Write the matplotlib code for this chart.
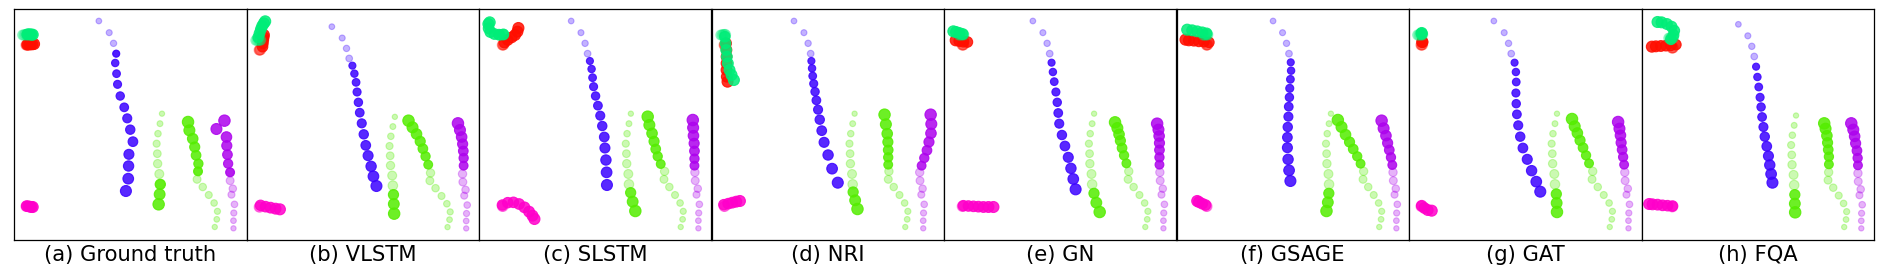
import numpy as np
import matplotlib.pyplot as plt

titles = ["(a) Ground truth", "(b) VLSTM", "(c) SLSTM", "(d) NRI",
          "(e) GN", "(f) GSAGE", "(g) GAT", "(h) FQA"]

# colours of the agents
c_blue = "#3b02ff"
c_green = "#54ed00"
c_purple = "#ad02ed"
c_mint = "#00ed78"
c_red = "#ff0e00"
c_magenta = "#ff00ca"

# observed history, in the frame of panel (a)
blue_hist = [(254, 36), (285, 71), (298, 103), (306, 134)]
greenl_hist = [(443, 314), (437, 344), (431, 374), (427, 404), (429, 434), (430, 464), (435, 495), (437, 526)]
greenr_hist = [(601, 654), (607, 631), (609, 607), (599, 582), (583, 558), (565, 534), (548, 511), (550, 487)]
purple_hist = [(657, 658), (657, 635), (658, 612), (660, 586), (651, 557), (655, 539), (647, 515), (646, 490)]
mint_hist = [(26, 78), (30, 78), (34, 77), (38, 77), (40, 77)]
red_hist = [(36, 108), (38, 108), (40, 107)]
magenta_hist = [(36, 592), (38, 592)]

# how each panel's autoscaled view maps the history (x scale, x shift, y scale, y shift)
view_sx = [1.0, 0.998, 0.945, 0.960, 0.970, 0.916, 1.0, 0.913]
view_ox = [0, 2, 35.9, 3.1, 19.6, 56.4, 0, 58.1]
view_sy = [1.0, 0.973, 1.0, 1.0, 1.0, 1.0, 1.0, 0.984]
view_oy = [0, 18, 0, 0, 0, 0, 0, 10.6]

# predicted futures, one list per panel
blue_pred = [
    [(306, 134), (303, 162), (307, 194), (310, 226), (318, 261), (330, 295), (339, 328), (348, 362), (356, 398), (344, 436), (343, 471), (342, 509), (335, 546)],
    [(317, 170), (323, 194), (328, 220), (331, 249), (335, 280), (339, 311), (345, 343), (351, 376), (357, 409), (364, 440), (373, 472), (380, 502), (389, 531)],
    [(332, 156), (337, 180), (340, 206), (343, 233), (349, 261), (356, 290), (363, 320), (369, 351), (375, 384), (377, 417), (380, 453), (382, 490), (383, 528)],
    [(299, 156), (301, 178), (303, 201), (306, 224), (310, 248), (314, 274), (319, 302), (324, 332), (330, 365), (337, 400), (349, 438), (361, 479), (378, 521)],
    [(322, 161), (326, 189), (330, 218), (335, 249), (339, 280), (342, 312), (345, 344), (353, 378), (362, 411), (372, 445), (380, 478), (387, 510), (394, 541)],
    [(342, 160), (343, 185), (341, 211), (339, 238), (338, 265), (336, 293), (335, 323), (333, 354), (332, 385), (332, 416), (334, 451), (337, 484), (341, 516)],
    [(316, 161), (320, 189), (321, 219), (320, 252), (321, 284), (323, 316), (327, 349), (333, 383), (341, 417), (354, 451), (367, 485), (381, 518), (393, 548)],
    [(343, 173), (347, 204), (351, 234), (355, 265), (358, 294), (361, 324), (365, 354), (369, 383), (375, 412), (380, 441), (384, 468), (388, 495), (392, 521)],
]
greenl_pred = [
    [(438, 526), (436, 556), (433, 586)],
    [(440, 557), (441, 585), (442, 614)],
    [(454, 551), (460, 578), (468, 606)],
    [(424, 549), (430, 574), (437, 600)],
    [(449, 553), (456, 581), (466, 609)],
    [(456, 553), (453, 580), (449, 606)],
    [(441, 555), (442, 582), (443, 609)],
    [(459, 557), (459, 584), (460, 610)],
]
greenr_pred = [
    [(551, 487), (552, 464), (545, 439), (541, 414), (535, 389), (525, 364), (521, 339)],
    [(544, 467), (536, 442), (528, 419), (520, 397), (509, 375), (497, 355), (485, 335)],
    [(544, 465), (535, 442), (529, 420), (524, 397), (518, 373), (510, 348), (505, 323)],
    [(529, 467), (529, 445), (529, 423), (528, 399), (526, 374), (522, 346), (518, 317)],
    [(546, 463), (539, 439), (533, 417), (528, 395), (524, 376), (519, 357), (512, 340)],
    [(551, 464), (541, 442), (529, 420), (518, 399), (506, 377), (494, 354), (483, 333)],
    [(539, 463), (530, 439), (521, 416), (512, 394), (504, 372), (496, 352), (488, 330)],
    [(561, 466), (561, 443), (559, 422), (557, 401), (555, 380), (551, 359), (547, 343)],
]
purple_pred = [
    [(647, 490), (641, 464), (639, 437), (637, 410), (636, 384), (606, 360), (630, 335)],
    [(650, 470), (650, 447), (649, 426), (647, 405), (644, 384), (639, 363), (633, 343)],
    [(645, 470), (645, 449), (645, 426), (644, 403), (642, 380), (641, 356), (640, 333)],
    [(629, 470), (637, 447), (645, 424), (651, 399), (657, 373), (658, 345), (656, 317)],
    [(645, 467), (645, 445), (645, 423), (645, 402), (644, 381), (642, 362), (638, 344)],
    [(646, 468), (642, 445), (637, 423), (632, 402), (627, 380), (620, 358), (614, 335)],
    [(644, 467), (641, 444), (638, 422), (635, 401), (633, 379), (630, 359), (626, 339)],
    [(648, 469), (647, 447), (645, 425), (641, 403), (638, 382), (634, 362), (628, 343)],
]
mint_pred = [
    [(40, 76), (44, 76), (48, 76), (52, 77), (56, 77)],
    [(35, 85), (39, 73), (43, 61), (47, 51), (52, 43), (56, 37)],
    [(73, 76), (60, 77), (46, 75), (34, 69), (29, 58), (28, 45), (32, 40)],
    [(40, 83), (42, 103), (44, 123), (46, 143), (49, 163), (54, 183), (60, 198), (67, 213)],
    [(56, 75), (46, 72), (36, 69), (28, 67)],
    [(90, 73), (77, 70), (62, 67), (47, 64), (32, 62)],
    [(38, 74), (38, 72)],
    [(88, 91), (96, 78), (98, 65), (90, 53), (76, 45), (60, 40), (48, 39)],
]
red_pred = [
    [(40, 107), (45, 107), (50, 106), (55, 106), (60, 105)],
    [(48, 113), (49, 103), (50, 93), (51, 85), (52, 78)],
    [(76, 101), (86, 93), (98, 85), (108, 78), (115, 68), (118, 57)],
    [(44, 103), (45, 123), (45, 143), (45, 163), (45, 183), (46, 203), (48, 218)],
    [(70, 99), (58, 98), (46, 96), (35, 94)],
    [(97, 100), (82, 98), (67, 97), (52, 95), (37, 94), (27, 92)],
    [(40, 99), (40, 99)],
    [(103, 107), (88, 109), (73, 110), (58, 111), (43, 112), (31, 113)],
]
magenta_pred = [
    [(38, 591), (43, 592), (48, 593), (52, 594), (56, 594)],
    [(42, 589), (57, 593), (72, 596), (87, 599), (100, 601)],
    [(70, 588), (86, 581), (103, 580), (120, 585), (136, 595), (150, 608), (160, 620), (166, 630)],
    [(37, 587), (50, 584), (62, 581), (74, 578), (85, 576)],
    [(58, 590), (73, 591), (88, 592), (103, 593), (118, 594), (133, 594), (148, 594)],
    [(87, 588), (77, 584), (67, 579), (62, 576)],
    [(38, 590), (46, 597), (56, 603), (68, 605)],
    [(93, 591), (78, 590), (63, 589), (48, 587), (33, 586), (23, 585)],
]


def msize(r):
    # radius in panel units (1/3 px) -> scatter size in pt^2
    d = 2 * np.asarray(r) / 3 * 0.72 * 1.22
    return d ** 2


def draw_agent(ax, i, hist, pred, color, r0, r1):
    n_h, n_p = len(hist), len(pred[i])
    r = np.linspace(r0, r1, n_h + n_p)
    h = np.array(hist, dtype=float)
    hx = h[:, 0] * view_sx[i] + view_ox[i]
    hy = h[:, 1] * view_sy[i] + view_oy[i]
    ax.scatter(hx, hy, s=msize(r[:n_h]), color=color, alpha=0.3, linewidths=0.8)
    p = np.array(pred[i], dtype=float)
    ax.scatter(p[:, 0], p[:, 1], s=msize(r[n_h:]), color=color, alpha=0.85, linewidths=0.8)


fig = plt.figure(figsize=(18.87, 2.76), dpi=100)
W, H = 1887, 276
for i in range(8):
    ax = fig.add_axes([(14 + i * 232.5) / W, (276 - 240) / H, 232.5 / W, 231 / H])
    draw_agent(ax, i, red_hist, red_pred, c_red, 12.5, 13.5)
    draw_agent(ax, i, mint_hist, mint_pred, c_mint, 12.5, 13.5)
    draw_agent(ax, i, magenta_hist, magenta_pred, c_magenta, 12.5, 13.5)
    draw_agent(ax, i, blue_hist, blue_pred, c_blue, 7, 13.5)
    draw_agent(ax, i, greenl_hist, greenl_pred, c_green, 6.5, 14)
    draw_agent(ax, i, greenr_hist, greenr_pred, c_green, 6.5, 14)
    draw_agent(ax, i, purple_hist, purple_pred, c_purple, 6.5, 14)
    ax.set_xlim(0, 696)
    ax.set_ylim(693, 0)
    ax.set_xticks([])
    ax.set_yticks([])
    for sp in ax.spines.values():
        sp.set_linewidth(0.9)
    ax.text(0.5, -0.091, titles[i], transform=ax.transAxes, ha="center",
            va="baseline", fontsize=15.2)

fig.savefig("out.png", dpi=100)
